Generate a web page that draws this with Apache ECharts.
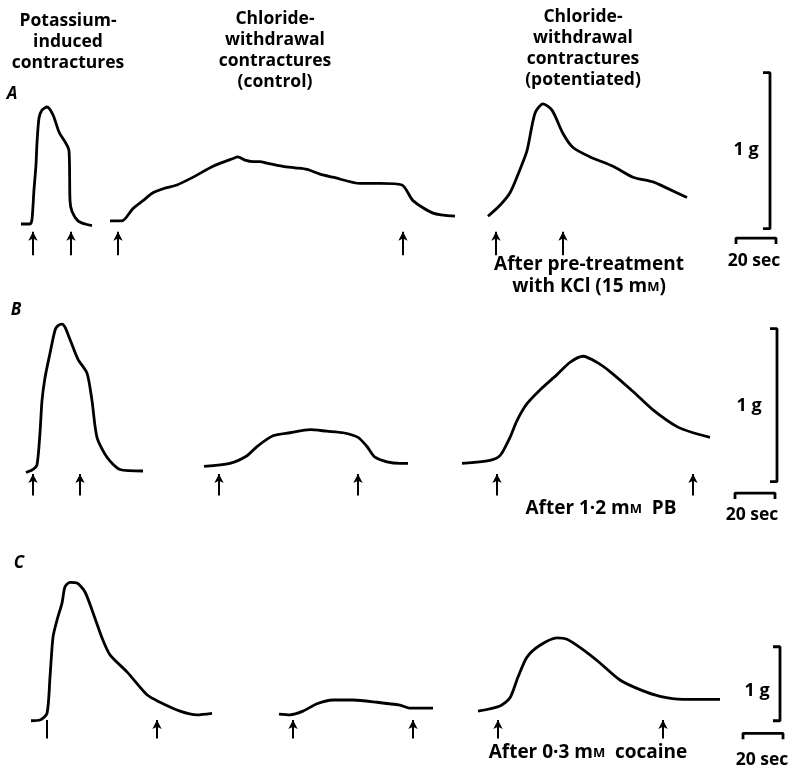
<!DOCTYPE html>
<html>
<head>
<meta charset="utf-8">
<script src="https://cdn.jsdelivr.net/npm/echarts@6/dist/echarts.min.js"></script>
<style>html,body{margin:0;padding:0;background:#fff}#main{width:797px;height:769px}</style>
</head>
<body>
<div id="main"></div>
<script>
// chart recorder traces, time in sec from left edge of the row, tension in g
var traceA1 = [[10.5,0],[15,0],[16,0.03],[17,0.22],[18,0.38],[18.5,0.52],[19.5,0.68],[21,0.73],[23.5,0.75],[26.5,0.70],[29.5,0.59],[34.5,0.47],[35,0.15],[36,0.08],[39,0.02],[42.5,0],[46,-0.01]];
var traceA2 = [[55,0.02],[61,0.02],[66.5,0.10],[71.5,0.15],[76.5,0.20],[82.5,0.23],[88.5,0.25],[96.5,0.30],[106.5,0.37],[116.5,0.42],[119,0.43],[122.5,0.41],[126.5,0.40],[130,0.40],[133.5,0.39],[141.5,0.37],[147.5,0.36],[153.5,0.35],[160,0.32],[166.5,0.30],[180,0.26],[190,0.26],[201,0.25],[206.5,0.15],[216.5,0.07],[227.5,0.05]];
var traceA3 = [[244,0.05],[250,0.12],[255,0.20],[260,0.35],[263.5,0.47],[267.5,0.71],[271.5,0.77],[276,0.73],[281.5,0.58],[286.5,0.49],[295,0.43],[306.5,0.37],[316.5,0.30],[326.5,0.27],[333.5,0.23],[343.5,0.17]];

var traceB1 = [[13,-0.01],[16.5,0.01],[18.5,0.04],[20,0.25],[21,0.46],[22.5,0.61],[25,0.77],[27.5,0.92],[29,0.95],[31,0.96],[32.5,0.94],[35,0.86],[39,0.73],[43.5,0.64],[46,0.46],[48.5,0.22],[53.5,0.09],[60,0.01],[71.5,0]];
var traceB2 = [[102,0.03],[115,0.05],[123.5,0.10],[128.5,0.16],[136.5,0.23],[145,0.25],[155,0.27],[163.5,0.26],[171.5,0.25],[179,0.22],[183.5,0.16],[187.5,0.09],[193.5,0.06],[200,0.05],[204,0.05]];
var traceB3 = [[231,0.05],[245,0.07],[250,0.10],[255,0.22],[258.5,0.33],[263.5,0.44],[270,0.53],[278.5,0.63],[285,0.71],[291.5,0.75],[298.5,0.71],[305,0.65],[316.5,0.52],[326.5,0.40],[338.5,0.29],[346.5,0.25],[355,0.22]];

var traceC1 = [[15.5,-0.01],[20,0],[23.5,0.09],[25,0.58],[26.5,1.12],[28.5,1.35],[31,1.58],[32.5,1.80],[35,1.86],[38.5,1.85],[42.5,1.73],[46.5,1.45],[51,1.11],[55,0.88],[63.5,0.65],[73.5,0.34],[80,0.24],[90,0.12],[98.5,0.07],[106,0.09]];
var traceC2 = [[139.5,0.08],[145,0.07],[151.5,0.12],[158.5,0.22],[166.5,0.27],[176.5,0.27],[188.5,0.24],[200,0.20],[205,0.16],[216.5,0.16]];
var traceC3 = [[239,0.12],[250,0.19],[255,0.30],[259,0.58],[263.5,0.85],[270,1.01],[278.5,1.11],[283.5,1.09],[291.5,0.95],[300,0.77],[310,0.54],[320,0.41],[330,0.32],[341.5,0.28],[360,0.28]];

// times of the arrows (solution changes)
var arrowsA = [16.5, 35.5, 59, 201.5, 248, 281.5];
var arrowsB = [16.5, 40, 109.5, 179, 248.5, 346.5];
var arrowsC = [23.5, 78.5, 146.5, 206.5, 249, 331.5];

var scaleG = 1;     // g
var scaleSec = 20;  // sec

// layout of each row: baseline pixel, px per g, y range
var rows = [
  {base:224, ppg:156, min:-0.3, max:1.1, arrows:arrowsA, arrowLo:-0.2, arrowHi:-0.05, gBar:[385,-0.03], secBar:[368,-0.09], traces:[traceA1,traceA2,traceA3]},
  {base:471, ppg:153, min:-0.3, max:1.1, arrows:arrowsB, arrowLo:-0.16, arrowHi:-0.02, gBar:[388.5,-0.07], secBar:[367.5,-0.144], traces:[traceB1,traceB2,traceB3]},
  {base:720, ppg:74, min:-0.45, max:2.05, arrows:arrowsC, arrowLo:-0.25, arrowHi:0, gBar:[390,-0.01], secBar:[371.5,-0.18], traces:[traceC1,traceC2,traceC3]}
];

var FONT = 'Open Sans';
var myChart = echarts.init(document.getElementById('main'));

var grids = [], xAxes = [], yAxes = [], series = [];
var ln = {color:'#000', width:2.8};

rows.forEach(function(r, i){
	grids.push({left:0, width:797, top:r.base - r.ppg*r.max, height:r.ppg*(r.max-r.min)});
	xAxes.push({type:'value', gridIndex:i, min:0, max:398.5, show:false});
	yAxes.push({type:'value', gridIndex:i, min:r.min, max:r.max, show:false});

	r.traces.forEach(function(t){
		series.push({type:'line', xAxisIndex:i, yAxisIndex:i, data:t, showSymbol:false, smooth:0.25, lineStyle:ln, silent:true});
	});

	// arrows under the traces
	var marks = r.arrows.map(function(t, k){
		var plain = (i == 2 && k == 0); // first one in C has no head
		return [{coord:[t, r.arrowLo], symbol:'none'}, {coord:[t, r.arrowHi], symbol: plain ? 'none' : 'arrow'}];
	});
	series.push({type:'line', xAxisIndex:i, yAxisIndex:i, data:[], silent:true,
		markLine:{silent:true, symbol:['none','arrow'], symbolSize:[7,9], label:{show:false},
			lineStyle:{color:'#000', width:2, type:'solid'}, data:marks}});

	// 1 g bracket
	var gx = r.gBar[0], g0 = r.gBar[1];
	series.push({type:'line', xAxisIndex:i, yAxisIndex:i, showSymbol:false, silent:true, lineStyle:ln,
		data:[[gx-3.5, g0+scaleG],[gx, g0+scaleG],[gx, g0],[gx-3.5, g0]]});
	// 20 sec bar
	var sx = r.secBar[0], sy = r.secBar[1], drop = 6/r.ppg;
	series.push({type:'line', xAxisIndex:i, yAxisIndex:i, showSymbol:false, silent:true, lineStyle:ln,
		data:[[sx, sy-drop],[sx, sy],[sx+scaleSec, sy],[sx+scaleSec, sy-drop]]});
});

function txt(x, y, s, size, extra){
	var st = {text:s, x:0, y:0, fill:'#000', fontFamily:FONT, fontSize:size || 17, fontWeight:'bold',
		textAlign:'center', textVerticalAlign:'middle', lineHeight:21,
		rich:{s:{fontFamily:FONT, fontSize:13, fontWeight:'bold'}}};
	for (var k in extra) st[k] = extra[k];
	return {type:'text', x:x, y:y, silent:true, style:st};
}

var graphic = [
	txt(68, 11, 'Potassium-\ninduced\ncontractures', 17.5, {textVerticalAlign:'top'}),
	txt(275, 9, 'Chloride-\nwithdrawal\ncontractures\n(control)', 17.5, {textVerticalAlign:'top'}),
	txt(583, 7, 'Chloride-\nwithdrawal\ncontractures\n(potentiated)', 17.5, {textVerticalAlign:'top'}),
	txt(12, 94, 'A', 17, {fontStyle:'italic'}),
	txt(16, 310, 'B', 17, {fontStyle:'italic'}),
	txt(19, 563, 'C', 17, {fontStyle:'italic'}),
	txt(746, 150, '1 g', 18),
	txt(749, 406, '1 g', 18),
	txt(757, 691, '1 g', 18),
	txt(754, 261, '20 sec', 17.5),
	txt(752, 515, '20 sec', 17.5),
	txt(762, 760, '20 sec', 17.5),
	txt(589, 265, 'After pre-treatment', 19, {lineHeight:22}),
	txt(589, 287, 'with KCl (15 m{s|M})', 19, {lineHeight:22}),
	txt(601, 509, 'After 1\u00b72 m{s|M}  PB', 19, {lineHeight:22}),
	txt(588, 753, 'After 0\u00b73 m{s|M}  cocaine', 19, {lineHeight:22})
];

var option = {
	animation:false,
	backgroundColor:'#fff',
	grid:grids,
	xAxis:xAxes,
	yAxis:yAxes,
	series:series,
	graphic:graphic
};
myChart.setOption(option);
</script>
</body>
</html>
